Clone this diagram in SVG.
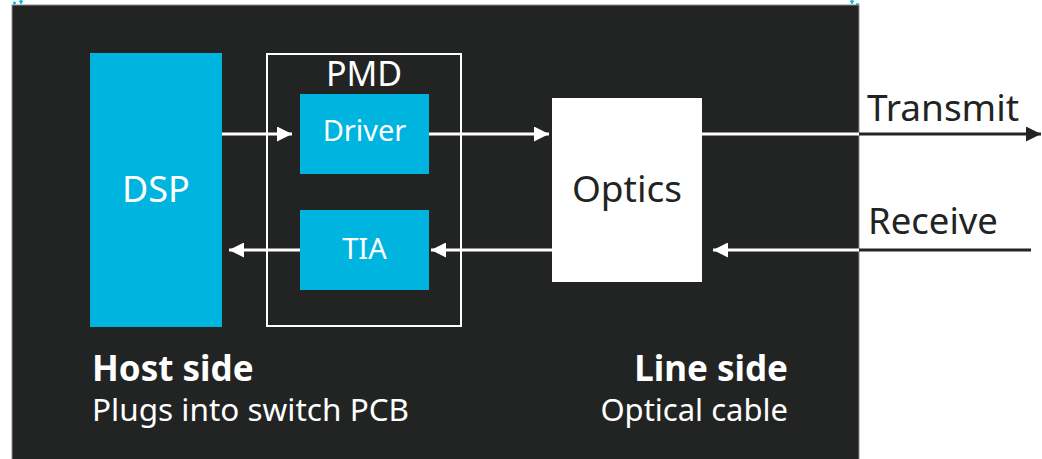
<svg xmlns="http://www.w3.org/2000/svg" width="1042" height="459" viewBox="0 0 1042 459">
<style>
.t{font-family:"Noto Sans","Open Sans",sans-serif;}
.w{fill:#ffffff;}
.k{fill:#222423;}
.lw{stroke:#ffffff;stroke-width:3;fill:none;}
.lk{stroke:#222423;stroke-width:3;fill:none;}
.blue{fill:#00b4e0;}
</style>
<defs>
<marker id="aw" viewBox="0 0 10 10" refX="10" refY="5" markerWidth="5" markerHeight="5" markerUnits="strokeWidth" orient="auto">
<path d="M0,0 L10,5 L0,10 Z" fill="#ffffff"/>
</marker>
<marker id="ak" viewBox="0 0 10 10" refX="10" refY="5" markerWidth="5" markerHeight="5" markerUnits="strokeWidth" orient="auto">
<path d="M0,0 L10,5 L0,10 Z" fill="#222423"/>
</marker>
</defs>
<rect width="1042" height="459" fill="#ffffff"/>
<g id="background">
<rect x="12" y="5" width="847" height="460" fill="#222423" stroke="#8a8a8a" stroke-width="1"/>
<path d="M13,3 h3 M14.5,1.5 v3 M19,1.5 h4 M21,0 v4 M850,1.5 h4 M852,0 v4 M856,4 h3" stroke="#00b4e0" stroke-width="1.5"/>
</g>
<g id="dsp">
<rect class="blue" x="90" y="53" width="132" height="274"/>
<text class="t w" x="156" y="202" font-size="36" text-anchor="middle">DSP</text>
</g>
<g id="pmd">
<rect x="267" y="54" width="194" height="272" fill="none" stroke="#ffffff" stroke-width="2"/>
<text class="t w" x="364" y="86" font-size="34" text-anchor="middle">PMD</text>
</g>
<g id="driver">
<rect class="blue" x="300" y="94" width="129" height="80"/>
<text class="t w" x="364.5" y="141" font-size="29" text-anchor="middle">Driver</text>
</g>
<g id="tia">
<rect class="blue" x="300" y="210" width="129" height="80"/>
<text class="t w" x="364.5" y="259" font-size="29" text-anchor="middle">TIA</text>
</g>
<g id="optics">
<rect x="552" y="98" width="150" height="184" fill="#ffffff"/>
<text class="t k" x="627" y="202" font-size="37" text-anchor="middle">Optics</text>
</g>
<g id="connectors">
<line class="lw" x1="222" y1="134" x2="292" y2="134" marker-end="url(#aw)"/>
<line class="lw" x1="429" y1="134" x2="549" y2="134" marker-end="url(#aw)"/>
<line class="lw" x1="702" y1="134" x2="859" y2="134"/>
<line class="lk" x1="859" y1="134" x2="1041" y2="134" marker-end="url(#ak)"/>
<line class="lk" x1="1031" y1="250" x2="859" y2="250"/>
<line class="lw" x1="859" y1="250" x2="713" y2="250" marker-end="url(#aw)"/>
<line class="lw" x1="552" y1="250" x2="431" y2="250" marker-end="url(#aw)"/>
<line class="lw" x1="300" y1="250" x2="229" y2="250" marker-end="url(#aw)"/>
</g>
<g id="labels">
<text class="t k" x="867" y="121" font-size="37">Transmit</text>
<text class="t k" x="868" y="234" font-size="36.5">Receive</text>
<text class="t w" x="92" y="381" font-size="35" font-weight="bold">Host side</text>
<text class="t w" x="92" y="421" font-size="31.5">Plugs into switch PCB</text>
<text class="t w" x="788" y="381" font-size="35" font-weight="bold" text-anchor="end">Line side</text>
<text class="t w" x="788" y="421" font-size="31" text-anchor="end">Optical cable</text>
</g>
</svg>
